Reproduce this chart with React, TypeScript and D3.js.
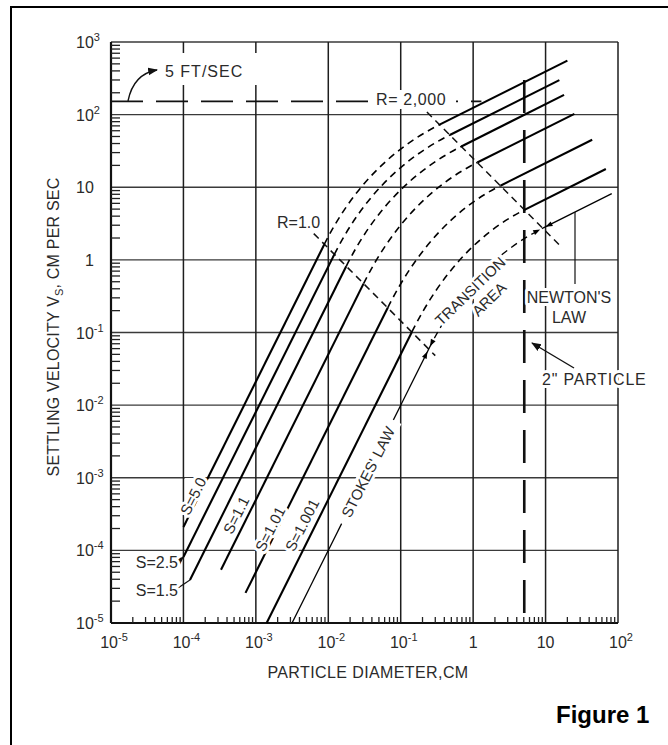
import React from "react";
import * as d3 from "d3";

type P = [number, number];

// ---------- axes ----------
const xDecades = [1e-5, 1e-4, 1e-3, 1e-2, 1e-1, 1, 10, 100];
const xTickBase = ["10", "10", "10", "10", "10", "1", "10", "10"];
const xTickExp = ["-5", "-4", "-3", "-2", "-1", "", "", "2"];
const yDecades = [1e-5, 1e-4, 1e-3, 1e-2, 1e-1, 1, 10, 100, 1000];
const yTickBase = ["10", "10", "10", "10", "10", "1", "10", "10", "10"];
const yTickExp = ["-5", "-4", "-3", "-2", "-1", "", "", "2", "3"];
const minorMultipliers = [2, 3, 4, 5, 6, 7, 8, 9];

// ---------- settling curves (diameter cm, velocity cm/s) ----------
const curveNames = ["S=5.0", "S=2.5", "S=1.5", "S=1.1", "S=1.01", "S=1.001", "STOKES' LAW"];
const stokesStart: P[] = [
  [1e-4, 2.1e-4], [1e-4, 8.1e-5], [1.23e-4, 3.9e-5], [3.3e-4, 5.4e-5],
  [7.2e-4, 2.6e-5], [1.41e-3, 1e-5], [3.16e-3, 1e-5],
];
const stokesEnd: P[] = [
  [8.8e-3, 1.63], [0.01214, 1.19], [0.0177, 0.816], [0.0307, 0.471],
  [0.0662, 0.219], [0.1426, 0.1017], [0.244, 0.0594],
];
const newtonStart: P[] = [
  [0.344, 72.7], [0.476, 52.4], [0.686, 36.4], [1.14, 21.9],
  [2.38, 10.5], [5.11, 4.88], [9.17, 2.73],
];
const newtonEnd: P[] = [
  [20, 555], [15.5, 299], [18, 187], [25, 102.5],
  [44, 45.1], [68, 17.8], [82, 8.15],
];

// ---------- reference lines ----------
const rOneLine: P[] = [[0.0063, 2.3], [0.3, 0.048]];
const rTwoThousandLine: P[] = [[0.23, 108.7], [16.4, 1.52]];
const fiveFtLine: P[] = [[1e-5, 152.4], [1.3, 152.4]];
const particleLine: P[] = [[5.08, 300], [5.08, 1e-5]];

const FONT = "'Liberation Sans', Arial, Helvetica, sans-serif";
const INK = "#2a2a2a";

export default function App() {
  const x = d3.scaleLog().domain([1e-5, 1e2]).range([111, 618]);
  const y = d3.scaleLog().domain([1e-5, 1e3]).range([623, 42]);
  const px = (p: P): P => [x(p[0]), y(p[1])];
  const line = d3.line<P>().x((d) => x(d[0])).y((d) => y(d[1]));

  const transitionPath = (i: number) => {
    const s0 = px(stokesStart[i]);
    const a = px(stokesEnd[i]);
    const b = px(newtonStart[i]);
    const n1 = px(newtonEnd[i]);
    const d1 = [a[0] - s0[0], a[1] - s0[1]];
    const d2 = [b[0] - n1[0], b[1] - n1[1]];
    const den = d1[0] * d2[1] - d1[1] * d2[0];
    const t = ((n1[0] - s0[0]) * d2[1] - (n1[1] - s0[1]) * d2[0]) / den;
    const c = [s0[0] + t * d1[0], s0[1] + t * d1[1]];
    const p = d3.path();
    p.moveTo(a[0], a[1]);
    p.quadraticCurveTo(c[0], c[1], b[0], b[1]);
    return p.toString();
  };

  const unit = (from: P, to: P): P => {
    const a = px(from), b = px(to);
    const dx = b[0] - a[0], dy = b[1] - a[1];
    const l = Math.hypot(dx, dy);
    return [dx / l, dy / l];
  };
  const tri = (tip: P, u: P, len: number, half: number) => {
    const bx = tip[0] - u[0] * len, by = tip[1] - u[1] * len;
    const nx = -u[1], ny = u[0];
    return `${tip[0]},${tip[1]} ${bx + nx * half},${by + ny * half} ${bx - nx * half},${by - ny * half}`;
  };

  const last = curveNames.length - 1;
  const j1 = px(stokesEnd[last]);
  const u1 = unit(stokesStart[last], stokesEnd[last]);
  const j2 = px(newtonStart[last]);
  const u2 = unit(newtonStart[last], newtonEnd[last]);

  const halo = { stroke: "#fff", strokeWidth: 6, paintOrder: "stroke" as const, strokeLinejoin: "round" as const };

  const minorX: number[] = [];
  xDecades.slice(0, -1).forEach((d) => minorMultipliers.forEach((m) => minorX.push(d * m)));
  const minorY: number[] = [];
  yDecades.slice(0, -1).forEach((d) => minorMultipliers.forEach((m) => minorY.push(d * m)));

  const [x0, x1] = x.range();
  const [yb, yt] = y.range();

  const newtonLeaderTopY = y(newtonStart[last][1] * Math.sqrt(x.invert(575) / newtonStart[last][0]));

  return (
    <svg width={668} height={745} style={{ position: "absolute", left: 0, top: 0, background: "#fff" }}>
      <defs>
        <marker id="ah" viewBox="0 0 10 10" refX="9" refY="5" markerWidth="7" markerHeight="7" orient="auto">
          <path d="M0,1 L10,5 L0,9 Z" fill="#111" />
        </marker>
      </defs>
      <rect x={0} y={0} width={668} height={745} fill="#fff" />
      <rect x={11} y={7} width={720} height={800} fill="none" stroke="#000" strokeWidth={2} />

      {/* grid */}
      <g>
        {yDecades.map((d) => (
          <line key={"hy" + d} x1={x0} x2={x1} y1={y(d)} y2={y(d)} stroke="#3a3a3a" strokeWidth={1.4} />
        ))}
        {xDecades.map((d) => (
          <line key={"vx" + d} x1={x(d)} x2={x(d)} y1={yt} y2={yb} stroke="#1e1e1e" strokeWidth={1.5} />
        ))}
        <line x1={x0} x2={x0} y1={yt} y2={yb} stroke="#111" strokeWidth={2.2} />
        <line x1={x0} x2={x1} y1={yb} y2={yb} stroke="#111" strokeWidth={2.2} />
        {minorX.map((d) => (
          <line key={"mx" + d} x1={x(d)} x2={x(d)} y1={yb} y2={yb - 6} stroke="#222" strokeWidth={1.3} />
        ))}
        {minorY.map((d) => (
          <line key={"my" + d} x1={x0} x2={x0 + 9} y1={y(d)} y2={y(d)} stroke="#222" strokeWidth={1.3} />
        ))}
      </g>

      {/* label backgrounds that interrupt grid lines */}
      <rect x={161} y={53} width={98} height={32} fill="#fff" />
      <rect x={185} y={478} width={8} height={46} fill="#fff" />

      {/* reference lines */}
      <path d={line(fiveFtLine) || ""} fill="none" stroke="#111" strokeWidth={1.6} strokeDasharray="32,13" />
      <path d={line(particleLine) || ""} fill="none" stroke="#111" strokeWidth={2.6} strokeDasharray="33,17" />
      <path d={line(rOneLine) || ""} fill="none" stroke="#111" strokeWidth={1.5} strokeDasharray="7,5" />
      <path d={line(rTwoThousandLine) || ""} fill="none" stroke="#111" strokeWidth={1.5} strokeDasharray="7,5" />

      {/* settling curves */}
      {curveNames.map((name, i) => {
        const thin = i === last;
        const w = thin ? 1.3 : 2.1;
        return (
          <g key={name}>
            <path d={line([stokesStart[i], stokesEnd[i]]) || ""} fill="none" stroke="#000" strokeWidth={w} />
            <path d={transitionPath(i)} fill="none" stroke="#000" strokeWidth={thin ? 1.3 : 1.6} strokeDasharray="7,5" />
            <path d={line([newtonStart[i], newtonEnd[i]]) || ""} fill="none" stroke="#000" strokeWidth={w} />
          </g>
        );
      })}

      {/* boundary arrows on the lowest curve */}
      <polygon points={tri([j1[0] - u1[0] * 3, j1[1] - u1[1] * 3], u1, 7, 2.6)} fill="#000" />
      <polygon points={tri([j1[0] + u1[0] * 3, j1[1] + u1[1] * 3], [-u1[0], -u1[1]], 7, 2.6)} fill="#000" />
      <polygon points={tri([j2[0] - u2[0] * 3, j2[1] - u2[1] * 3], u2, 7, 2.6)} fill="#000" />
      <polygon points={tri([j2[0] + u2[0] * 3, j2[1] + u2[1] * 3], [-u2[0], -u2[1]], 7, 2.6)} fill="#000" />

      {/* Newton's law leader */}
      <line x1={575} x2={575} y1={newtonLeaderTopY} y2={284} stroke="#111" strokeWidth={1.2} />

      {/* leaders */}
      <path d="M128,101 C131,86 139,73 157,70" fill="none" stroke="#111" strokeWidth={1.4} markerEnd="url(#ah)" />
      <line x1={574} y1={368} x2={532} y2={343} stroke="#111" strokeWidth={1.4} markerEnd="url(#ah)" />
      <line x1={178} y1={588} x2={px(stokesStart[2])[0]} y2={px(stokesStart[2])[1]} stroke="#111" strokeWidth={1.2} />
      <line x1={179} y1={561} x2={px(stokesStart[1])[0]} y2={px(stokesStart[1])[1]} stroke="#111" strokeWidth={1.2} markerEnd="url(#ah)" />

      {/* backgrounds for labels lying on lines */}
      <rect x={372} y={90} width={84} height={19} fill="#fff" />
      <g transform="translate(368,472) rotate(-63)">
        <rect x={-58} y={-8} width={116} height={16} fill="#fff" />
      </g>

      {/* tick labels */}
      <g fontFamily={FONT} fill={INK} fontSize={16}>
        {xDecades.map((d, i) => (
          <text key={"xt" + d} x={x(d) + (xTickExp[i] ? 3 : 0)} y={648} textAnchor="middle">
            <tspan>{xTickBase[i]}</tspan>
            {xTickExp[i] && <tspan dy={-7} fontSize={11}>{xTickExp[i]}</tspan>}
          </text>
        ))}
        {yDecades.map((d, i) => (
          <text key={"yt" + d} x={yTickBase[i] === "1" ? 85 : 76} y={y(d) + 6}>
            <tspan>{yTickBase[i]}</tspan>
            {yTickExp[i] && <tspan dy={-7} fontSize={11}>{yTickExp[i]}</tspan>}
          </text>
        ))}
      </g>

      {/* axis titles */}
      <g fontFamily={FONT} fill={INK} fontSize={16}>
        <text x={368} y={678} textAnchor="middle" letterSpacing={0.4}>PARTICLE DIAMETER,CM</text>
        <text transform="translate(59,327) rotate(-90)" textAnchor="middle" letterSpacing={0.2}>
          <tspan>SETTLING VELOCITY V</tspan>
          <tspan dy={4} fontSize={11}>S</tspan>
          <tspan dy={-4}>, CM PER SEC</tspan>
        </text>
      </g>

      {/* annotations */}
      <g fontFamily={FONT} fill={INK} fontSize={16} {...halo}>
        <text x={165} y={77} letterSpacing={1}>5 FT/SEC</text>
        <text x={376} y={105} letterSpacing={0.6}>R= 2,000</text>
        <text x={277} y={228}>R=1.0</text>
        <text x={178} y={568} textAnchor="end">S=2.5</text>
        <text x={178} y={596} textAnchor="end">S=1.5</text>
        <text transform="translate(193,496) rotate(-63)" textAnchor="middle" dominantBaseline="central" fontSize={15}>S=5.0</text>
        <text transform="translate(236,515) rotate(-63)" textAnchor="middle" dominantBaseline="central" fontSize={15}>S=1.1</text>
        <text transform="translate(270,529) rotate(-63)" textAnchor="middle" dominantBaseline="central" fontSize={15}>S=1.01</text>
        <text transform="translate(302,525) rotate(-63)" textAnchor="middle" dominantBaseline="central" fontSize={15}>S=1.001</text>
        <text transform="translate(368,472) rotate(-63)" textAnchor="middle" dominantBaseline="central" fontSize={15}>STOKES' LAW</text>
        <text transform="translate(470,291) rotate(-44)" textAnchor="middle" dominantBaseline="central" fontSize={15}>TRANSITION</text>
        <text transform="translate(489,299) rotate(-44)" textAnchor="middle" dominantBaseline="central" fontSize={15}>AREA</text>
        <text x={569} y={303} textAnchor="middle">NEWTON'S</text>
        <text x={569} y={323} textAnchor="middle">LAW</text>
        <text x={542} y={385} letterSpacing={0.8}>2" PARTICLE</text>
      </g>

      <text x={556} y={723} fontFamily={FONT} fontWeight="bold" fontSize={24} fill="#000">Figure 1</text>
    </svg>
  );
}
